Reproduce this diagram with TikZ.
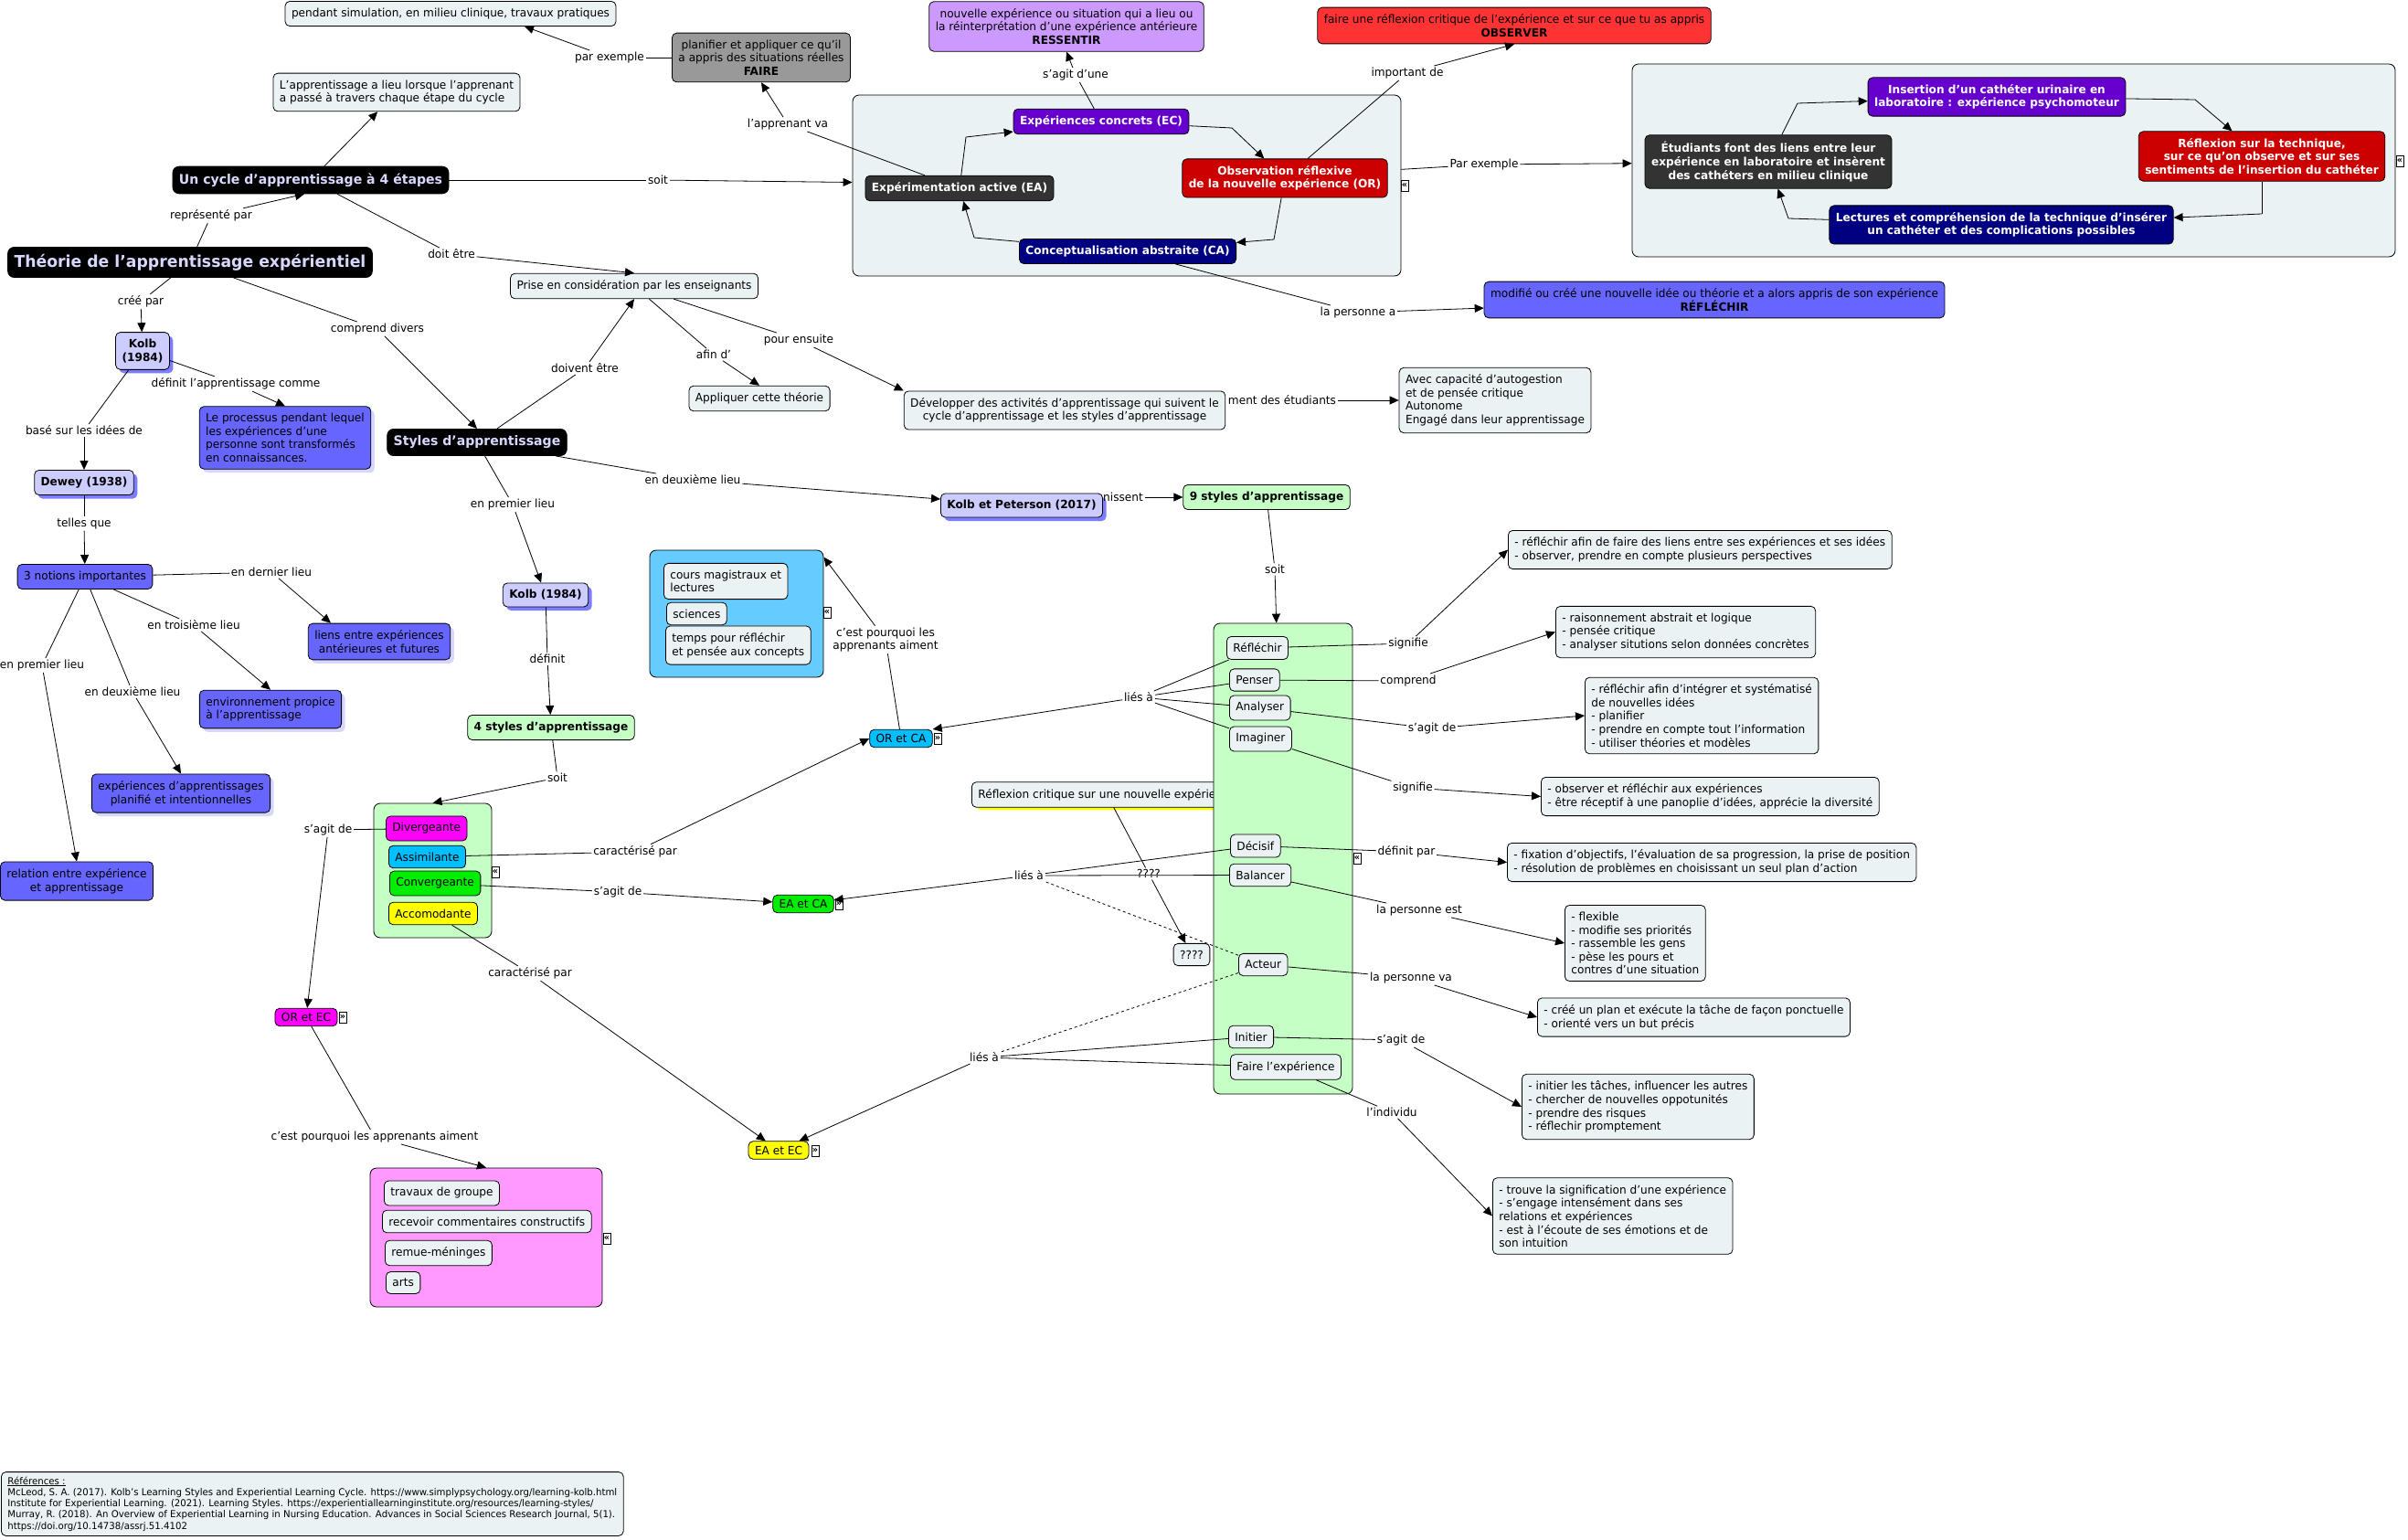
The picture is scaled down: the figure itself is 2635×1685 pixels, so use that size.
\documentclass[tikz,border=0pt]{standalone}
\usepackage{fontspec}
\setmainfont{DejaVu Sans}[FakeStretch=0.97]
\usepackage{tikz}
\usetikzlibrary{arrows.meta,shadows}
\definecolor{cellbg}{HTML}{EBF2F4}
\definecolor{greyfaire}{HTML}{999999}
\definecolor{lilac}{HTML}{CC99FF}
\definecolor{redobs}{HTML}{FF3333}
\definecolor{bluerefl}{HTML}{6666FF}
\definecolor{purplec}{HTML}{6600CC}
\definecolor{redc}{HTML}{CC0000}
\definecolor{navyc}{HTML}{000080}
\definecolor{darkc}{HTML}{333333}
\definecolor{lavender}{HTML}{CCCCFF}
\definecolor{paletxt}{HTML}{D8D8FF}
\definecolor{mint}{HTML}{C6FFC6}
\definecolor{skyc}{HTML}{66CCFF}
\definecolor{cyanc}{HTML}{00BFFF}
\definecolor{limec}{HTML}{00EE00}
\definecolor{magc}{HTML}{FF00FF}
\definecolor{yelc}{HTML}{FFFF00}
\definecolor{pinkc}{HTML}{FF99FF}

\begin{document}
\begin{tikzpicture}[x=1pt, y=-1pt, line width=0.8pt,
  box/.style={draw, rounded corners=5pt, fill=cellbg, inner xsep=7pt, inner ysep=7.5pt, align=center, font=\fontsize{12.5}{14.6}\selectfont},
  boxl/.style={box, align=left},
  hot/.style={box, fill=#1, text=white, font=\fontsize{12.5}{14.6}\selectfont\bfseries},
  title/.style={box, fill=black, text=paletxt, rounded corners=7pt, font=\fontsize{#1}{#1}\selectfont\bfseries},
  lav/.style={box, fill=lavender, font=\fontsize{12.5}{14.6}\selectfont\bfseries, drop shadow={shadow xshift=4pt, shadow yshift=-4pt, fill=bluerefl!85, opacity=1}},
  note/.style={box, fill=bluerefl, align=left},
  soft/.style={drop shadow={shadow xshift=4pt, shadow yshift=-4pt, fill=lavender!80, opacity=1}},
  grp/.style={draw, rounded corners=7pt, fill=#1, inner sep=0pt},
  tog/.style={draw, fill=white, line width=0.5pt, inner sep=0.3pt, minimum width=8pt, minimum height=12pt, font=\fontsize{10}{10}\selectfont\bfseries},
  lbl/.style={inner sep=1.5pt, font=\fontsize{12.5}{14.6}\selectfont},
  link/.style={-{Triangle[length=10pt,width=9pt]}}]
\useasboundingbox[fill=white] (0,0) rectangle (2635,1685);

% containers
\node[grp=cellbg, minimum width=600pt, minimum height=198pt] (cyc) at (1233,203) {};
\node[grp=cellbg, minimum width=835pt, minimum height=211pt] (exgrp) at (2203.5,175.5) {};
\node[grp=skyc, minimum width=190pt, minimum height=139pt] (bluegrp) at (806,671.5) {};
\node[grp=mint, minimum width=129pt, minimum height=147pt] (fourgrp) at (473.5,952.5) {};
\node[grp=pinkc, minimum width=254pt, minimum height=152pt] (pinkgrp) at (532,1354) {};
\node[box, anchor=west, drop shadow={shadow xshift=5pt, shadow yshift=-3pt, fill=yelc, opacity=1}] (critique) at (1063,869.5) {Réflexion critique sur une nouvelle expérience};
\node[grp=mint, minimum width=152pt, minimum height=515pt] (ninegrp) at (1404,939.5) {};

% top of the map
\node[box] (sim) at (493,15) {pendant simulation, en milieu clinique, travaux pratiques};
\node[box, fill=greyfaire] (faire) at (833,63) {planifier et appliquer ce qu'il\\a appris des situations réelles\\\textbf{FAIRE}};
\node[boxl] (appr) at (434,101) {L'apprentissage a lieu lorsque l'apprenant\\a passé à travers chaque étape du cycle};
\node[box, fill=lilac] (ressentir) at (1167,29) {nouvelle expérience ou situation qui a lieu ou\\la réinterprétation d'une expérience antérieure\\\textbf{RESSENTIR}};
\node[box, fill=redobs] (observer) at (1657,28) {faire une réflexion critique de l'expérience et sur ce que tu as appris\\\textbf{OBSERVER}};
\node[title=14.5] (cycle) at (340,197) {Un cycle d'apprentissage à 4 étapes};
\node[title=17.8] (theory) at (208,287) {Théorie de l'apprentissage expérientiel};

% cycle of Kolb
\node[hot=purplec] (ec) at (1205,133) {Expériences concrets (EC)};
\node[hot=redc] (or) at (1406,195) {Observation réflexive\\de la nouvelle expérience (OR)};
\node[hot=navyc] (ca) at (1234,275) {Conceptualisation abstraite (CA)};
\node[hot=darkc] (ea) at (1050,206) {Expérimentation active (EA)};
\node[tog] at (1537,203) {«};

% example cycle
\node[hot=purplec] (ins) at (2185,106) {Insertion d'un cathéter urinaire en\\laboratoire : expérience psychomoteur};
\node[hot=redc] (refl) at (2475,171) {Réflexion sur la technique,\\sur ce qu'on observe et sur ses\\sentiments de l'insertion du cathéter};
\node[hot=navyc] (lect) at (2190,246) {Lectures et compréhension de la technique d'insérer\\un cathéter et des complications possibles};
\node[hot=darkc] (etu) at (1935,177) {Étudiants font des liens entre leur\\expérience en laboratoire et insèrent\\des cathéters en milieu clinique};
\node[tog] at (2626,176) {«};
\node[box, fill=bluerefl] (refle) at (1876,328) {modifié ou créé une nouvelle idée ou théorie et a alors appris de son expérience\\\textbf{RÉFLÉCHIR}};

% teachers
\node[box] (prise) at (694,313) {Prise en considération par les enseignants};
\node[box] (appl) at (831,436) {Appliquer cette théorie};
\node[box] (dev) at (1165,449) {Développer des activités d'apprentissage qui suivent le\\cycle d'apprentissage et les styles d'apprentissage};
\node[boxl] (avec) at (1636,438) {Avec capacité d'autogestion\\et de pensée critique\\Autonome\\Engagé dans leur apprentissage};

% Kolb, Dewey
\node[lav] (kolbA) at (156,384) {Kolb\\(1984)};
\node[note, soft] (proc) at (312,479) {Le processus pendant lequel\\les expériences d'une\\personne sont transformés\\en connaissances.};
\node[lav] (dewey) at (92,528) {Dewey (1938)};
\node[title=14.5] (styles) at (522,484) {Styles d'apprentissage};
\node[lav] (kp) at (1118,553) {Kolb et Peterson (2017)};
\node[box, fill=mint, font=\fontsize{12.5}{14.6}\selectfont\bfseries] (nine) at (1386,544) {9 styles d'apprentissage};

\node[box, fill=bluerefl] (notions) at (93,631) {3 notions importantes};
\node[box, fill=bluerefl, soft] (liens) at (415,702) {liens entre expériences\\antérieures et futures};
\node[note, soft] (env) at (296,776) {environnement propice\\à l'apprentissage};
\node[box, fill=bluerefl, soft] (expl) at (198,868) {expériences d'apprentissages\\planifié et intentionnelles};
\node[box, fill=bluerefl] (rel) at (84,964) {relation entre expérience\\et apprentissage};

\node[lav] (kolbB) at (597,651) {Kolb (1984)};
\node[box, fill=mint, font=\fontsize{12.5}{14.6}\selectfont\bfseries] (four) at (603,796) {4 styles d'apprentissage};

% 4 styles
\node[box, fill=magc, anchor=west] (div) at (422,906.5) {Divergeante};
\node[box, fill=cyanc, anchor=west] (ass) at (425,937.5) {Assimilante};
\node[box, fill=limec, anchor=west] (conv) at (426,966.5) {Convergeante};
\node[box, fill=yelc, anchor=west] (acc) at (425,999.5) {Accomodante};
\node[tog] at (542,954) {«};

% learners like
\node[boxl, anchor=west] (cours) at (726,636) {cours magistraux et\\lectures};
\node[box, anchor=west] (sci) at (729,671.5) {sciences};
\node[boxl, anchor=west] (temps) at (728,706) {temps pour réfléchir\\et pensée aux concepts};
\node[tog] at (905,670) {«};

\node[box, fill=cyanc, inner ysep=5pt] (orca) at (986,808) {OR et CA};
\node[tog] at (1026,808) {»};
\node[box, fill=limec, inner ysep=5pt] (eaca) at (879,989) {EA et CA};
\node[tog] at (918,989) {»};
\node[box, fill=yelc, inner ysep=5pt] (eaec) at (852,1258.5) {EA et EC};
\node[tog] at (892,1259) {»};
\node[box, fill=magc, inner ysep=5pt] (orec) at (335,1113) {OR et EC};
\node[tog] at (375,1113) {»};

\node[box, anchor=west] (tg) at (420,1305.5) {travaux de groupe};
\node[box, anchor=west] (rc) at (418,1336.5) {recevoir commentaires constructifs};
\node[box, anchor=west] (rm) at (421,1371) {remue-méninges};
\node[box, anchor=west] (arts) at (422,1403.5) {arts};
\node[tog] at (664,1355) {«};

% 9 styles
\node[box, anchor=west] (refl9) at (1342,709) {Réfléchir};
\node[box, anchor=west] (pens) at (1345,744) {Penser};
\node[box, anchor=west] (anal) at (1345,774.5) {Analyser};
\node[box, anchor=west] (imag) at (1345,808.5) {Imaginer};
\node[box, anchor=west] (deci) at (1346,925.5) {Décisif};
\node[box, anchor=west] (bal) at (1345,957.5) {Balancer};
\node[box, anchor=west] (act) at (1355,1055.5) {Acteur};
\node[box, anchor=west] (init) at (1344,1134.5) {Initier};
\node[box, anchor=west] (fexp) at (1346,1167.5) {Faire l'expérience};
\node[tog] at (1485,939) {«};
\node[box] (qq) at (1304,1044.5) {????};

\node[boxl, anchor=west] (b1) at (1650,601.5) {- réfléchir afin de faire des liens entre ses expériences et ses idées\\- observer, prendre en compte plusieurs perspectives};
\node[boxl, anchor=west] (b2) at (1702,691.5) {- raisonnement abstrait et logique\\- pensée critique\\- analyser situtions selon données concrètes};
\node[boxl, anchor=west] (b3) at (1734,783) {- réfléchir afin d'intégrer et systématisé\\de nouvelles idées\\- planifier\\- prendre en compte tout l'information\\- utiliser théories et modèles};
\node[boxl, anchor=west] (b4) at (1686,871.5) {- observer et réfléchir aux expériences\\- être réceptif à une panoplie d'idées, apprécie la diversité};
\node[boxl, anchor=west] (b5) at (1649,943.5) {- fixation d'objectifs, l'évaluation de sa progression, la prise de position\\- résolution de problèmes en choisissant un seul plan d'action};
\node[boxl, anchor=west] (b6) at (1712,1032) {- flexible\\- modifie ses priorités\\- rassemble les gens\\- pèse les pours et\\contres d'une situation};
\node[boxl, anchor=west] (b7) at (1682,1113) {- créé un plan et exécute la tâche de façon ponctuelle\\- orienté vers un but précis};
\node[boxl, anchor=west] (b8) at (1665,1211) {- initier les tâches, influencer les autres\\- chercher de nouvelles oppotunités\\- prendre des risques\\- réflechir promptement};
\node[boxl, anchor=west] (b9) at (1633,1330.5) {- trouve la signification d'une expérience\\- s'engage intensément dans ses\\relations et expériences\\- est à l'écoute de ses émotions et de\\son intuition};

\node[boxl, anchor=west, inner ysep=5pt, font=\fontsize{10.5}{12.3}\selectfont] (refs) at (1,1645.5) {\underline{Références :}\\McLeod, S. A. (2017). Kolb's Learning Styles and Experiential Learning Cycle. https://www.simplypsychology.org/learning-kolb.html\\Institute for Experiential Learning. (2021). Learning Styles. https://experientiallearninginstitute.org/resources/learning-styles/\\Murray, R. (2018). An Overview of Experiential Learning in Nursing Education. Advances in Social Sciences Research Journal, 5(1).\\https://doi.org/10.14738/assrj.51.4102};

% link labels
\node[lbl] (lParex) at (667,63) {par exemple};
\node[lbl] (lVa) at (862,136) {l'apprenant va};
\node[lbl] (lAgitune) at (1177,82) {s'agit d'une};
\node[lbl] (lImp) at (1540,80) {important de};
\node[lbl] (lSoit) at (720,197) {soit};
\node[lbl] (lParex2) at (1624,180) {Par exemple};
\node[lbl] (lPers) at (1486,342) {la personne a};
\node[lbl] (lRep) at (231,236) {représenté par};
\node[lbl] (lDoit) at (494,278) {doit être};
\node[lbl] (lCree) at (154,330) {créé par};
\node[lbl] (lComp) at (413,360) {comprend divers};
\node[lbl] (lDef) at (258,420) {définit l'apprentissage comme};
\node[lbl] (lBase) at (92,471) {basé sur les idées de};
\node[lbl] (lDoivent) at (640,403) {doivent être};
\node[lbl] (lAfin) at (781,388) {afin d'};
\node[lbl] (lPour) at (874,372) {pour ensuite};
\node[lbl] (lMent) at (1403,438) {ment des étudiants};
\node[lbl] (lDeux) at (758,525) {en deuxième lieu};
\node[lbl] (lNiss) at (1229,544) {nissent};
\node[lbl] (lPrem) at (561,552) {en premier lieu};
\node[lbl] (lTelles) at (92,573) {telles que};
\node[lbl] (lDern) at (297,626) {en dernier lieu};
\node[lbl] (lTrois) at (212,684) {en troisième lieu};
\node[lbl] (lDeux2) at (145,757) {en deuxième lieu};
\node[lbl] (lPrem2) at (46,728) {en premier lieu};
\node[lbl] (lDefinit) at (599,721) {définit};
\node[lbl] (lSoit2) at (610,851) {soit};
\node[lbl] (lSoit3) at (1395,623) {soit};
\node[lbl, align=center] (lPourq) at (969,700) {c'est pourquoi les\\apprenants aiment};
\node[lbl] (lCar1) at (695,932) {caractérisé par};
\node[lbl] (lLies1) at (1246,763) {liés à};
\node[lbl] (lAgit2) at (676,976) {s'agit de};
\node[lbl] (lLies2) at (1126,958) {liés à};
\node[lbl] (lQq) at (1257,956) {????};
\node[lbl] (lLies3) at (1077,1157) {liés à};
\node[lbl] (lCar2) at (580,1065) {caractérisé par};
\node[lbl] (lAgit3) at (359,908) {s'agit de};
\node[lbl] (lPourq2) at (410,1244) {c'est pourquoi les apprenants aiment};
\node[lbl] (lSig1) at (1541,704) {signifie};
\node[lbl] (lComp2) at (1541,745) {comprend};
\node[lbl] (lAgit4) at (1567,797) {s'agit de};
\node[lbl] (lSig2) at (1546,862) {signifie};
\node[lbl] (lDefpar) at (1539,932) {définit par};
\node[lbl] (lPersest) at (1553,996) {la personne est};
\node[lbl] (lPersva) at (1544,1070) {la personne va};
\node[lbl] (lAgit5) at (1533,1138) {s'agit de};
\node[lbl] (lIndiv) at (1523,1217) {l'individu};

% bends of the cycles (labels left empty)
\coordinate (kEa) at (1057,150);
\coordinate (kEc) at (1348,140);
\coordinate (kOr) at (1394,262);
\coordinate (kCa) at (1066,260);
\coordinate (kEtu) at (1967,113);
\coordinate (kIns) at (2402,109);
\coordinate (kRefl) at (2475,234);
\coordinate (kLect) at (1957,239);
\coordinate (kAppr) at (388,148);

% connectors
\draw (faire) -- (lParex) edge[link] ([xshift=81pt]sim.south);
\draw (ea) -- (lVa) edge[link] (faire.south);
\draw (ec) -- (lAgitune) edge[link] (ressentir.south);
\draw (or) -- (lImp) edge[link] (observer.south);
\draw (cycle) -- (lSoit) edge[link] (cyc);
\draw (cyc) -- (lParex2) edge[link] (exgrp);
\draw (ca) -- (lPers) edge[link] (refle);
\draw (ea) -- (kEa) edge[link] (ec);
\draw (ec) -- (kEc) edge[link] (or);
\draw (or) -- (kOr) edge[link] (ca);
\draw (ca) -- (kCa) edge[link] (ea);
\draw (etu) -- (kEtu) edge[link] (ins);
\draw (ins) -- (kIns) edge[link] (refl);
\draw (refl) -- (kRefl) edge[link] (lect);
\draw (lect) -- (kLect) edge[link] (etu);
\draw (theory) -- (lRep) edge[link] ([xshift=-7pt]cycle.south);
\draw (cycle) -- (kAppr) edge[link] (appr);
\draw (cycle) -- (lDoit) edge[link] (prise.north);
\draw (theory) -- (lCree) edge[link] (kolbA);
\draw (theory) -- (lComp) edge[link] (styles.north);
\draw (kolbA) -- (lDef) edge[link] (proc.north);
\draw (kolbA) -- (lBase) edge[link] (dewey);
\draw (styles) -- (lDoivent) edge[link] (prise.south);
\draw (prise) -- (lAfin) edge[link] (appl.north);
\draw (prise) -- (lPour) edge[link] (dev.north west);
\draw[link] (lMent) -- (avec);
\draw (styles) -- (lDeux) edge[link] (kp);
\draw[link] (lNiss) -- (nine);
\draw (styles) -- (lPrem) edge[link] (kolbB);
\draw (dewey) -- (lTelles) edge[link] (notions);
\draw (notions) -- (lDern) edge[link] ([xshift=-53pt]liens.north);
\draw (notions) -- (lTrois) edge[link] (env.north);
\draw (notions) -- (lDeux2) edge[link] (expl.north);
\draw (notions) -- (lPrem2) edge[link] (rel.north);
\draw (kolbB) -- (lDefinit) edge[link] (four);
\draw (four) -- (lSoit2) edge[link] (fourgrp.north);
\draw (nine) -- (lSoit3) edge[link] (ninegrp);
\draw (orca) -- (lPourq) edge[link] ([yshift=-8pt]bluegrp.north east);
\draw (ass) -- (lCar1) edge[link] (orca.west);
\draw (refl9) -- (lLies1) (pens) -- (lLies1) (anal) -- (lLies1) (imag) -- (lLies1);
\draw[link] (lLies1) -- (orca.north east);
\draw (conv) -- (lAgit2) edge[link] (eaca);
\draw (deci) -- (lLies2) (bal) -- (lLies2);
\draw[dashed] (act) -- (lLies2) (act) -- (lLies3);
\draw[link] (lLies2) -- (eaca);
\draw (critique) -- (lQq) edge[link] (qq);
\draw (init) -- (lLies3) (fexp) -- (lLies3);
\draw[link] (lLies3) -- (eaec);
\draw (acc) -- (lCar2) edge[link] (eaec);
\draw (div) -- (lAgit3) edge[link] (orec);
\draw (orec) -- (lPourq2) edge[link] (pinkgrp.north);
\draw (refl9) -- (lSig1) edge[link] (b1.west);
\draw (pens) -- (lComp2) edge[link] (b2.west);
\draw (anal) -- (lAgit4) edge[link] (b3.west);
\draw (imag) -- (lSig2) edge[link] (b4.west);
\draw (deci) -- (lDefpar) edge[link] (b5.west);
\draw (bal) -- (lPersest) edge[link] (b6.west);
\draw (act) -- (lPersva) edge[link] (b7.west);
\draw (init) -- (lAgit5) edge[link] (b8.west);
\draw (fexp) -- (lIndiv) edge[link] (b9.west);
\end{tikzpicture}
\end{document}
